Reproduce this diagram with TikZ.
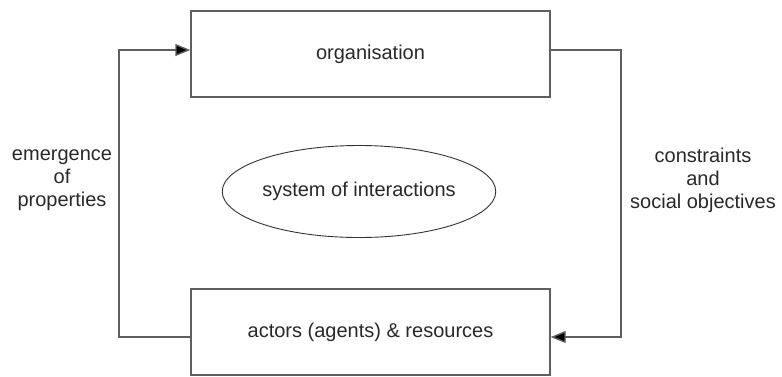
\documentclass[tikz,border=0pt]{standalone}
\usepackage{fontspec}
\setmainfont{Liberation Sans}
\usetikzlibrary{arrows.meta,shapes.geometric}
\definecolor{linegray}{RGB}{95,95,95}
\definecolor{txtgray}{RGB}{40,40,40}
\begin{document}
\begin{tikzpicture}[x=1pt,y=-1pt,
  every node/.style={font=\fontsize{20}{23}\selectfont, text=txtgray},
  box/.style={draw=linegray, line width=1.4pt, rectangle, minimum width=359pt, minimum height=86pt, inner sep=0pt},
  oval/.style={draw=black!80, line width=0.9pt, ellipse, minimum width=236pt, minimum height=92pt, inner sep=0pt},
  conn/.style={draw=linegray, line width=1.4pt, -{Triangle[length=15pt,width=12pt,fill=black]}},
  lbl/.style={align=center, inner sep=0pt}]
\useasboundingbox (0,0) rectangle (782,376);
\node[box] (org) at (370.5,54) {organisation};
\node[box] (act) at (370.5,332) {actors (agents) \& resources};
\node[oval] (sys) at (359,191.5) {system of interactions};
\node[lbl] (emg) at (62,180) {emergence\\of\\properties};
\node[lbl] (con) at (703,180) {constraints\\and\\social objectives};
\coordinate (lb) at (119,337);
\coordinate (rt) at (621,50);
\draw[conn] ([yshift=-5pt]act.west) -- (lb) |- ([yshift=4pt]org.west);
\draw[conn] ([yshift=4pt]org.east) -- (rt) |- ([yshift=-5pt]act.east);
\end{tikzpicture}
\end{document}
